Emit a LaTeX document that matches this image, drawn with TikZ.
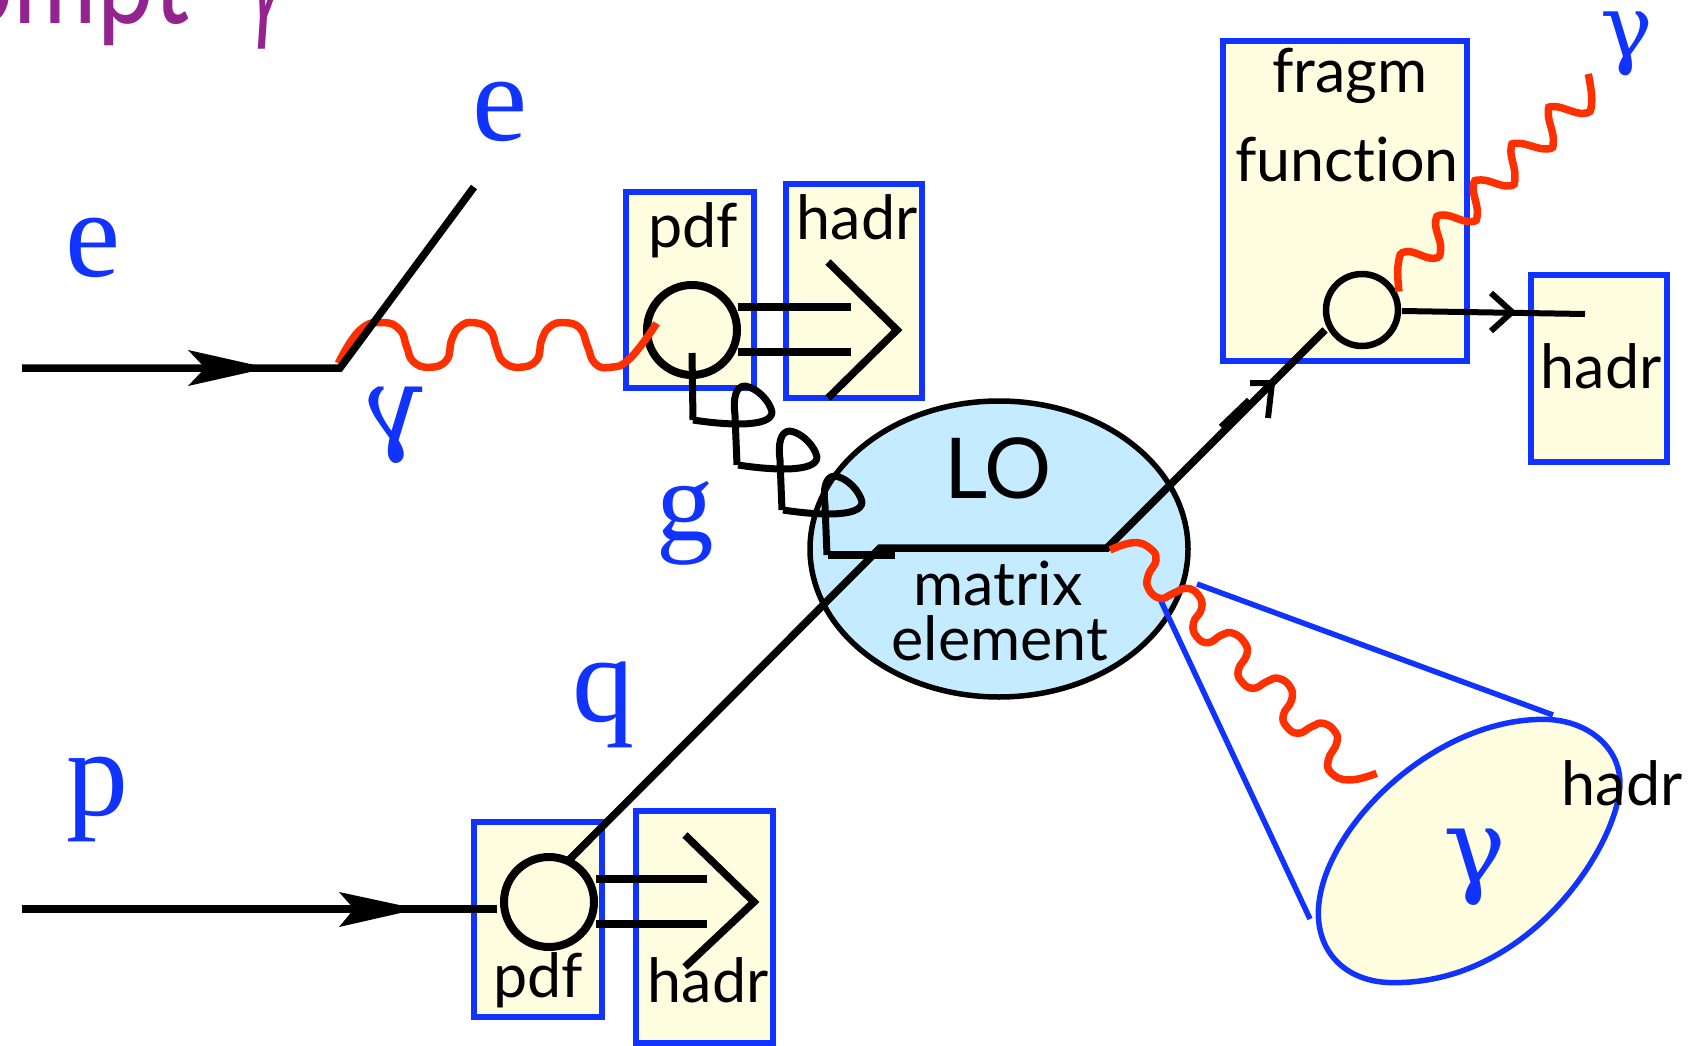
\documentclass[tikz,border=0pt]{standalone}
\usepackage{fontspec}
\setmainfont{Lato}[Ligatures=NoCommon]
\newfontfamily\serifblue{Liberation Serif}
\newfontfamily\gamfont{DejaVu Serif}
\definecolor{boxblue}{HTML}{1133FF}
\definecolor{boxfill}{HTML}{FFFDE0}
\definecolor{redwave}{HTML}{FF3000}
\definecolor{lofill}{HTML}{C4EBFF}
\definecolor{purp}{HTML}{93238F}
\tikzset{
  frame/.style={draw=boxblue,fill=boxfill,line width=5.5pt,inner sep=0pt,rectangle},
  blob/.style={circle,draw=black,fill=boxfill,inner sep=0pt},
  phys/.style={draw=black,line width=7.5pt},
  thinphys/.style={draw=black,line width=6pt},
  wave/.style={draw=redwave,line width=7.5pt,smooth,tension=0.8},
  conel/.style={draw=boxblue,line width=5.5pt},
  lab/.style={anchor=base,inner sep=0pt,font=\fontsize{61}{61}\selectfont},
  bigl/.style={anchor=base,inner sep=0pt,text=boxblue,font=\serifblue\fontsize{124}{124}\selectfont},
  gam/.style={anchor=base,inner sep=0pt,text=boxblue,font=\gamfont\fontsize{105}{105}\selectfont},
}
\begin{document}
\begin{tikzpicture}[x=1pt,y=-1pt]
\useasboundingbox (0,0) rectangle (1700,1046);
\clip (0,0) rectangle (1700,1046);
\node[anchor=base east,inner sep=0pt,text=purp,font=\fontsize{130}{130}\selectfont,xscale=0.78] (ompt) at (190,24) {ompt};
\node[anchor=base,inner sep=0pt,text=purp,font=\itshape\fontsize{150}{150}\selectfont,xscale=0.55] (pgam) at (266,24) {γ};

% boxes
\node[frame,minimum width=128pt,minimum height=196pt] (pdfa) at (690,290) {};
\node[frame,minimum width=136pt,minimum height=214pt] (hadra) at (854,291) {};
\node[frame,minimum width=128pt,minimum height=195pt] (pdfb) at (538,919.5) {};
\node[frame,minimum width=137pt,minimum height=232pt] (hadrb) at (704.5,927) {};
\node[frame,minimum width=244pt,minimum height=320pt] (frag) at (1345,201) {};
\node[frame,minimum width=136pt,minimum height=187pt] (hadrc) at (1599,368.5) {};

% LO ellipse
\draw[black,fill=lofill,line width=5.5pt] (999,549) ellipse [x radius=189,y radius=148];
\node[draw=none,inner sep=0pt] (lo) at (999,549) {};

% cone
\coordinate (conea) at (1161,601);
\coordinate (coneb) at (1310,919);
\coordinate (conec) at (1197,584);
\coordinate (coned) at (1553,715);
\draw[conel] (conea) -- (coneb);
\draw[conel] (conec) -- (coned);
\begin{scope}[shift={(1280,690)},x=0.3333pt,y=-0.3333pt]
\draw[draw=boxblue,fill=boxfill,line width=5.5pt] (790,88) .. controls (920,88) and (1020,170) .. (1020,280) .. controls (1020,450) and (760,880) .. (340,878) .. controls (200,878) and (115,790) .. (115,670) .. controls (115,430) and (450,88) .. (790,88) -- cycle;
\end{scope}

% blobs
\node[blob,line width=8pt,minimum size=90pt] (ca) at (692,330) {};
\node[blob,line width=8pt,minimum size=90pt] (cb) at (549,902) {};
\node[blob,line width=6.5pt,minimum size=72pt] (cc) at (1362,310) {};

% photon 1
\begin{scope}[shift={(320,290)},x=0.3333pt,y=-0.3333pt]
\draw[wave] plot coordinates {(55,220)(120,120)(190,98)(240,120)(260,170)(280,215)(330,232)(380,210)(395,150)(420,110)(462,98)(510,120)(530,175)(550,215)(598,232)(650,210)(665,150)(690,110)(733,98)(780,115)(803,170)(825,220)(870,232)(930,205)(1010,100)};
\end{scope}

% electron
\coordinate (ein) at (22,368);
\coordinate (evert) at (340,368);
\coordinate (eout) at (474,187);
\draw[phys,line join=miter] (ein) -- (evert) -- (eout);
\fill[black] (268,368) -- (188,350) -- (205,368) -- (188,386) -- cycle;

% proton
\coordinate (pin) at (22,909);
\coordinate (pend) at (497,909);
\draw[phys] (pin) -- (pend);
\fill[black] (418,909) -- (339,892) -- (354,909) -- (339,927) -- cycle;

% hadron lines top
\coordinate (ha1) at (738,307); \coordinate (ha2) at (851,307);
\coordinate (ha3) at (738,352); \coordinate (ha4) at (851,352);
\draw[phys] (ha1) -- (ha2);
\draw[phys] (ha3) -- (ha4);
\coordinate (cha) at (828,262); \coordinate (chb) at (897,330); \coordinate (chc) at (828,398);
\draw[phys,line join=miter] (cha) -- (chb) -- (chc);

% hadron lines bottom
\coordinate (hb1) at (596,879); \coordinate (hb2) at (707,879);
\coordinate (hb3) at (596,924); \coordinate (hb4) at (707,924);
\draw[phys] (hb1) -- (hb2);
\draw[phys] (hb3) -- (hb4);
\coordinate (cba) at (685,835); \coordinate (cbb) at (754,902); \coordinate (cbc) at (685,967);
\draw[phys,line join=miter] (cba) -- (cbb) -- (cbc);

% quark and LO lines
\coordinate (qv) at (880,548);
\coordinate (ov) at (1107,548);
\coordinate (qs) at (569,860);
\coordinate (os) at (1325,330);
\draw[phys,line join=miter] (qs) -- (qv) -- (ov) -- (os);
\draw[thinphys] (1250,383) -- (1272,383) -- (1268,418);
\draw[phys,line width=9pt] (1222,428) -- (1250,401);

% gluon
\coordinate (gs) at (692,353);
\draw[phys,line width=7pt,line join=round] (gs) -- (693,420);
\foreach \dd in {0,45,90}{
\draw[phys,line width=7pt,line join=round,xshift=\dd pt,yshift=-\dd pt] (693,420) .. controls (725,425) and (772,428) .. (772,412) .. controls (770,402) and (758,388) .. (745,386) .. controls (735,386) and (733,400) .. (735,415) -- (737,465);
}
\coordinate (ge) at (895,555);
\draw[phys,line width=8pt,line join=miter] (828,555) -- (ge);

% outgoing from frag blob
\coordinate (hcs) at (1402,311);
\coordinate (hce) at (1585,314);
\draw[thinphys] (hcs) -- (hce);
\draw[thinphys] (1491,293) -- (1512,312) -- (1491,331);

% photon 2
\begin{scope}[shift={(1200,0)},x=0.3333pt,y=-0.3333pt]
\draw[wave] plot coordinates {(597,875)(595,790)(620,755)(700,775)(722,745)(707,670)(730,645)(810,665)(832,640)(820,560)(845,540)(925,558)(945,530)(933,450)(955,430)(1040,447)(1060,420)(1045,340)(1065,320)(1150,340)(1175,310)(1165,222)};
\end{scope}

% photon 3
\begin{scope}[shift={(1090,530)},x=0.3333pt,y=-0.3333pt]
\draw[wave] plot coordinates {(60,60)(130,38)(180,55)(198,90)(175,135)(175,175)(210,205)(250,190)(290,175)(325,195)(335,235)(310,280)(320,320)(355,338)(395,315)(430,310)(465,340)(470,375)(445,420)(455,455)(490,475)(530,455)(565,445)(600,470)(605,510)(580,555)(590,590)(625,610)(665,590)(700,580)(735,605)(740,640)(715,690)(725,730)(780,750)(860,730)};
\end{scope}

% labels
\node[lab] (tpdfa) at (693,247) {pdf};
\node[lab] (thadra) at (857,239) {hadr};
\node[lab] (tpdfb) at (538,997) {pdf};
\node[lab] (thadrb) at (708,1002) {hadr};
\node[lab] (tfragm) at (1350,93) {fragm};
\node[lab] (tfunc) at (1347,181) {function};
\node[lab] (thadrc) at (1601,388) {hadr};
\node[lab] (thadrd) at (1622,805) {hadr};
\node[lab,font=\fontsize{84}{84}\selectfont] (tlo) at (998,498) {LO};
\node[lab] (tmatrix) at (998,605) {matrix};
\node[lab] (telem) at (1000,660) {element};

\node[bigl] (le1) at (93,276) {e};
\node[bigl] (le2) at (500,141) {e};
\node[bigl,font=\serifblue\fontsize{115}{115}\selectfont] (lg) at (685,540) {g};
\node[bigl] (lq) at (603,721) {q};
\node[bigl] (lp) at (97,815) {p};
\node[gam,xscale=-1] (lgam1) at (395,441) {γ};
\node[gam,font=\gamfont\fontsize{88}{88}\selectfont] (lgam2) at (1627,58) {γ};
\node[gam] (lgam3) at (1475,883) {γ};
\end{tikzpicture}
\end{document}
